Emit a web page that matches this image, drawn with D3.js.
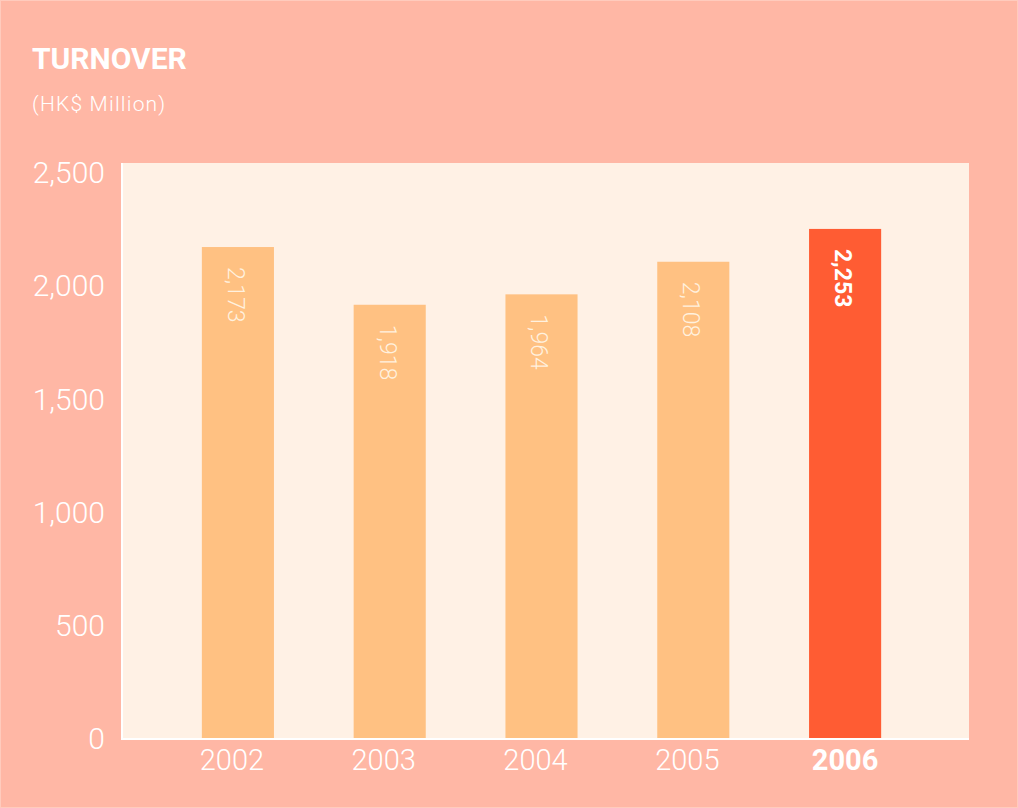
<!DOCTYPE html>
<html>
<head>
<meta charset="utf-8">
<script src="https://cdn.jsdelivr.net/npm/d3@7"></script>
<style>
  body { margin: 0; background: #ffb7a5; }
  svg { display: block; }
</style>
</head>
<body>
<div id="chart"></div>
<script>
// chart data
const years = ['2002', '2003', '2004', '2005', '2006'];
const turnover = [2173, 1918, 1964, 2108, 2253];
const labels = ['2,173', '1,918', '1,964', '2,108', '2,253'];
const yTicks = [0, 500, 1000, 1500, 2000, 2500];
const highlightYear = '2006';

const config = {
  width: 1018,
  height: 808,
  plot: { left: 121, right: 969, top: 163, bottom: 739 },
};

const svg = d3.select('#chart').append('svg')
  .attr('width', config.width)
  .attr('height', config.height);

// page background
svg.append('rect')
  .attr('x', 0.5).attr('y', 0.5)
  .attr('width', config.width - 1).attr('height', config.height - 1)
  .attr('fill', '#ffb7a5')
  .attr('stroke', '#ffcbbd')
  .attr('stroke-width', 1);

svg.append('text')
  .attr('x', 32).attr('y', 69)
  .attr('font-family', 'Roboto, sans-serif')
  .attr('font-weight', 700)
  .attr('font-size', 30)
  .attr('fill', '#ffffff')
  .text('TURNOVER');

svg.append('text')
  .attr('x', 32).attr('y', 111)
  .attr('font-family', 'Roboto, sans-serif')
  .attr('font-weight', 300)
  .attr('font-size', 21)
  .attr('letter-spacing', 1.2)
  .attr('fill', '#ffffff')
  .text('(HK$ Million)');

const p = config.plot;

// plot area
svg.append('rect')
  .attr('x', p.left).attr('y', p.top)
  .attr('width', p.right - p.left).attr('height', p.bottom - p.top)
  .attr('fill', '#fff1e5');

const yScale = d3.scaleLinear()
  .domain([0, 2500])
  .range([p.bottom, 173]);

const xScale = d3.scaleBand()
  .domain(years)
  .range([162, 921])
  .paddingInner(0.525)
  .paddingOuter(0.2625);

// bars
svg.append('g').selectAll('rect')
  .data(years)
  .join('rect')
  .attr('x', (d) => xScale(d))
  .attr('y', (d, i) => yScale(turnover[i]))
  .attr('width', xScale.bandwidth())
  .attr('height', (d, i) => yScale(0) - yScale(turnover[i]))
  .attr('fill', (d) => (d === highlightYear ? '#ff5c33' : '#ffc182'));

// value labels, rotated inside the bars
svg.append('g').selectAll('text')
  .data(years)
  .join('text')
  .attr('transform', (d, i) => `translate(${xScale(d) + xScale.bandwidth() / 2 - 2},${yScale(turnover[i]) + 20}) rotate(90)`)
  .attr('dy', '0.35em')
  .attr('font-family', 'Roboto, sans-serif')
  .attr('font-weight', (d) => (d === highlightYear ? 700 : 300))
  .attr('font-size', 23)
  .attr('fill', (d) => (d === highlightYear ? '#ffffff' : '#fff1df'))
  .text((d, i) => labels[i]);

// axes
const yAxis = d3.axisLeft(yScale)
  .tickValues(yTicks)
  .tickSize(0)
  .tickPadding(16)
  .tickFormat(d3.format(','));

const yAxisG = svg.append('g')
  .attr('transform', `translate(${p.left},0)`)
  .call(yAxis);
yAxisG.select('.domain').remove();
yAxisG.selectAll('text')
  .attr('font-family', 'Roboto, sans-serif')
  .attr('font-weight', 300)
  .attr('font-size', 30)
  .attr('fill', '#ffffff');

const xAxis = d3.axisBottom(xScale)
  .tickSize(0)
  .tickPadding(10);

const xAxisG = svg.append('g')
  .attr('transform', `translate(0,${p.bottom})`)
  .call(xAxis);
xAxisG.select('.domain').remove();
xAxisG.selectAll('text')
  .attr('dx', (d) => (d === highlightYear ? 0 : -6))
  .attr('font-family', 'Roboto, sans-serif')
  .attr('font-weight', (d) => (d === highlightYear ? 700 : 300))
  .attr('font-size', 29)
  .attr('fill', '#ffffff');

// white axis lines
svg.append('line')
  .attr('x1', p.left + 1).attr('x2', p.left + 1)
  .attr('y1', p.top).attr('y2', p.bottom + 1)
  .attr('stroke', '#ffffff').attr('stroke-width', 2);
svg.append('line')
  .attr('x1', p.left).attr('x2', p.right)
  .attr('y1', p.bottom).attr('y2', p.bottom)
  .attr('stroke', '#ffffff').attr('stroke-width', 2);
</script>
</body>
</html>
